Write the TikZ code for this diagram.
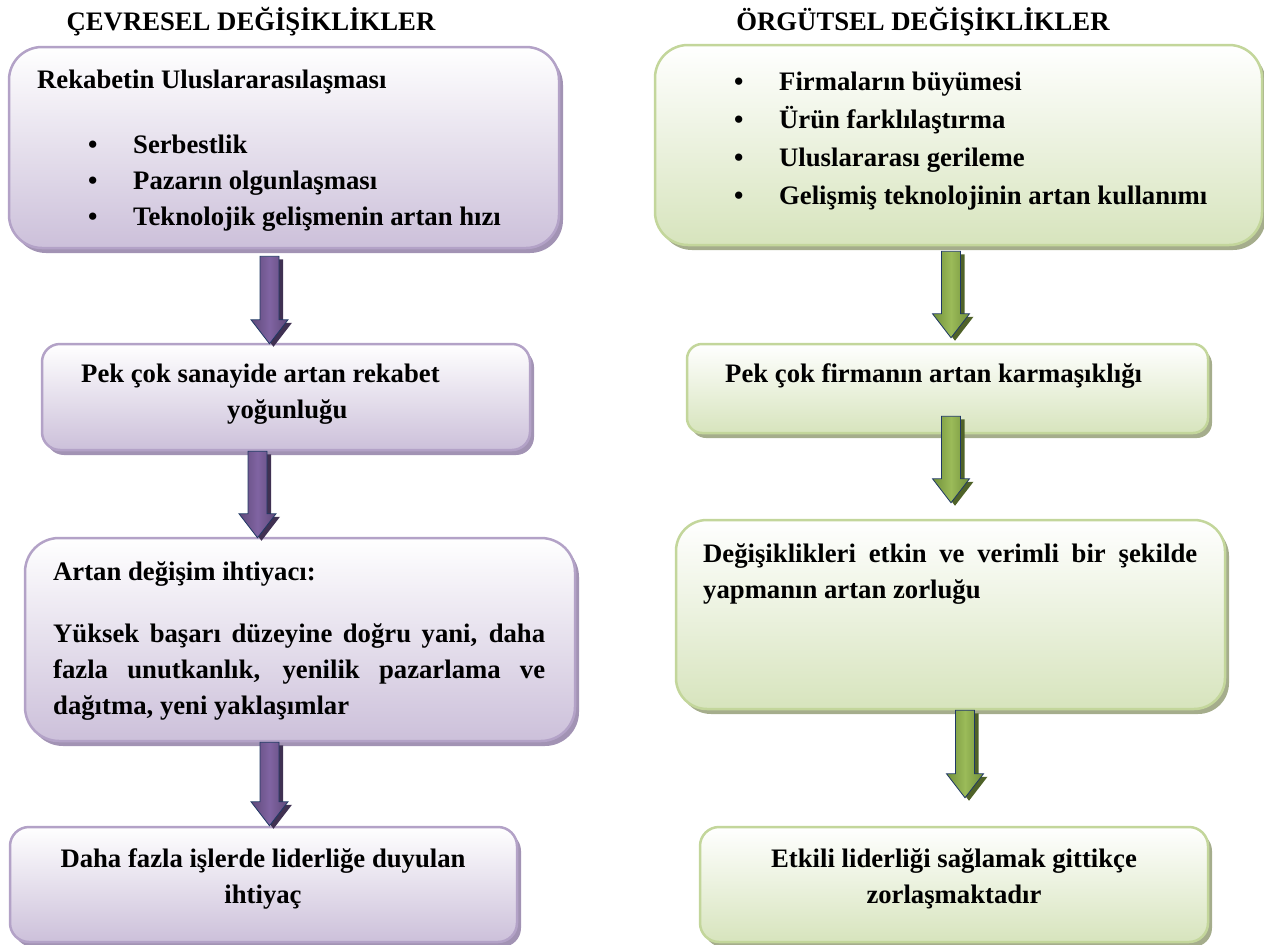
\documentclass[tikz,border=0pt]{standalone}
\usepackage{fontspec}
\setmainfont{Liberation Serif}
\usepackage{tikz}
\usetikzlibrary{calc}
\usetikzlibrary{shadows}

\definecolor{pfill}{HTML}{CCC0DA}
\definecolor{pline}{HTML}{B3A2C7}
\definecolor{pshade}{HTML}{A293B4}
\definecolor{pdark}{HTML}{5F497A}
\definecolor{pmid}{HTML}{8064A2}
\definecolor{pdeep}{HTML}{403152}
\definecolor{gfill}{HTML}{D7E4BD}
\definecolor{gline}{HTML}{C3D69B}
\definecolor{gshade}{HTML}{A5AD8C}
\definecolor{gdark}{HTML}{71903A}
\definecolor{gmid}{HTML}{9BBB59}
\definecolor{gdeep}{HTML}{4F6228}
\definecolor{okline}{HTML}{1F3864}

% block arrow from a start point down to the tip level of the target
\newcommand{\blkarrow}[3]{%
    \path[#1] let \p1=#2, \p2=#3 in
        (\x1-9.5pt,\y1) -- (\x1+9.5pt,\y1) -- (\x1+9.5pt,\y2+24pt)
        -- (\x1+18.5pt,\y2+24pt) -- (\x1,\y2) -- (\x1-18.5pt,\y2+24pt)
        -- (\x1-9.5pt,\y2+24pt) -- cycle;}
\newcommand{\madde}{\makebox[45pt][l]{\textbullet}}

\tikzset{
    kutu/.style={draw, line width=2.5pt, inner sep=0pt},
    pbox/.style={kutu, draw=pline, top color=white, bottom color=pfill,
        drop shadow={shadow xshift=4pt, shadow yshift=-5pt, fill=pshade, opacity=1}},
    gbox/.style={kutu, draw=gline, top color=white, bottom color=gfill,
        drop shadow={shadow xshift=4pt, shadow yshift=-5pt, fill=gshade, opacity=1}},
    parrow/.style={draw=okline, line width=0.8pt, left color=pdark, right color=pdark, middle color=pmid,
        drop shadow={shadow xshift=4pt, shadow yshift=-3pt, fill=pdeep, opacity=1}},
    garrow/.style={draw=okline, line width=0.8pt, left color=gdark, right color=gdark, middle color=gmid,
        drop shadow={shadow xshift=4pt, shadow yshift=-3pt, fill=gdeep, opacity=1}},
    yazi/.style={inner sep=0pt, font=\fontsize{26.7}{36}\selectfont\bfseries},
    blok/.style={yazi, anchor=north west, align=left},
    baslik/.style={yazi, anchor=base},
}

\begin{document}
\begin{tikzpicture}[x=1pt,y=-1pt]
\useasboundingbox (0,0) rectangle (1264,945);

% titles
\node[baslik] (cevbas) at (251,30) {ÇEVRESEL DEĞİŞİKLİKLER};
\node[baslik] (orgbas) at (923,30) {ÖRGÜTSEL DEĞİŞİKLİKLER};

% left column
\node[pbox, minimum width=550pt, minimum height=201pt, rounded corners=33pt] (cev1) at (284,147.5) {};
\node[pbox, minimum width=488pt, minimum height=106pt, rounded corners=18pt] (cev2) at (286,397) {};
\node[pbox, minimum width=550pt, minimum height=203pt, rounded corners=34pt] (cev3) at (300,639.5) {};
\node[pbox, minimum width=507pt, minimum height=115pt, rounded corners=19pt] (cev4) at (263.5,884.5) {};

% right column
\node[gbox, minimum width=607pt, minimum height=200pt, rounded corners=33pt] (org1) at (958.5,145) {};
\node[gbox, minimum width=521pt, minimum height=89pt, rounded corners=15pt] (org2) at (947.5,388.5) {};
\node[gbox, minimum width=549pt, minimum height=189pt, rounded corners=31pt] (org3) at (950.5,614.5) {};
\node[gbox, minimum width=508pt, minimum height=115pt, rounded corners=19pt] (org4) at (954,884.5) {};

% texts
\node[yazi, anchor=base west] (cev1a) at (37,88) {Rekabetin Uluslararasılaşması};
\node[blok] (cev1b) at (88,127.8) {\strut\madde Serbestlik\\ \madde Pazarın olgunlaşması\\ \madde Teknolojik gelişmenin artan hızı};
\node[blok] (cev2a) at (81,356.8) {\strut Pek çok sanayide artan rekabet\\ \hspace*{146pt}yoğunluğu};
\node[yazi, anchor=base west] (cev3a) at (53,580) {Artan değişim ihtiyacı:};
\node[blok] (cev3b) at (53,616.8) {\strut\makebox[492pt][s]{Yüksek başarı düzeyine doğru yani, daha}\\
    \makebox[492pt][s]{fazla unutkanlık, yenilik pazarlama ve}\\ dağıtma, yeni yaklaşımlar};
\node[yazi, anchor=north, align=center] (cev4a) at (263,841.8) {\strut Daha fazla işlerde liderliğe duyulan\\ ihtiyaç};

\node[blok, font=\fontsize{26.7}{38}\selectfont\bfseries] (org1a) at (734,63.4) {\strut\madde Firmaların büyümesi\\ \madde Ürün farklılaştırma\\
    \madde Uluslararası gerileme\\ \madde Gelişmiş teknolojinin artan kullanımı};
\node[yazi, anchor=base west] (org2a) at (725,382) {Pek çok firmanın artan karmaşıklığı};
\node[blok] (org3a) at (703,536.8) {\strut\makebox[494pt][s]{Değişiklikleri etkin ve verimli bir şekilde}\\ yapmanın artan zorluğu};
\node[yazi, anchor=north, align=center] (org4a) at (954,841.8) {\strut Etkili liderliği sağlamak gittikçe\\ zorlaşmaktadır};

% arrows
\blkarrow{parrow}{([xshift=-14.5pt,yshift=-7pt]cev1.south)}{([yshift=-1pt]cev2.north)}
\blkarrow{parrow}{([xshift=-28.5pt]cev2.south)}{([yshift=-1pt]cev3.north)}
\blkarrow{parrow}{([xshift=-30.5pt]cev3.south)}{(cev4.north)}
\blkarrow{garrow}{([xshift=-7.5pt,yshift=-5pt]org1.south)}{([yshift=5pt]org2.north)}
\blkarrow{garrow}{([xshift=3.5pt,yshift=18pt]org2.south)}{([yshift=16pt]org3.north)}
\blkarrow{garrow}{([xshift=14.5pt]org3.south)}{([yshift=28pt]org4.north)}
\end{tikzpicture}
\end{document}
